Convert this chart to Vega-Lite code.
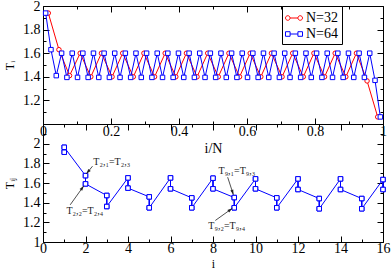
{
  "$schema": "https://vega.github.io/schema/vega-lite/v6.json",
  "padding": {"left": 3, "top": -2, "right": 5, "bottom": 0},
  "spacing": 0,
  "bounds": "flush",
  "config": {
    "font": "Liberation Serif",
    "view": {"stroke": "black", "strokeWidth": 1},
    "axis": {"labelFontSize": 14, "titleFontSize": 14, "titleFontWeight": "normal", "tickColor": "black", "labelColor": "black", "titleColor": "black", "grid": false, "domain": false, "labelFlush": false, "labelOverlap": false, "tickWidth": 1, "labelFont": "Liberation Serif", "titleFont": "Liberation Serif"}
  },
  "datasets": {
    "top": [
      {"N": "N=32", "x": 0.015625, "T": 1.94}, {"N": "N=32", "x": 0.046875, "T": 1.63}, {"N": "N=32", "x": 0.078125, "T": 1.41}, {"N": "N=32", "x": 0.109375, "T": 1.60},
      {"N": "N=32", "x": 0.140625, "T": 1.40}, {"N": "N=32", "x": 0.171875, "T": 1.60}, {"N": "N=32", "x": 0.203125, "T": 1.40}, {"N": "N=32", "x": 0.234375, "T": 1.60},
      {"N": "N=32", "x": 0.265625, "T": 1.40}, {"N": "N=32", "x": 0.296875, "T": 1.60}, {"N": "N=32", "x": 0.328125, "T": 1.40}, {"N": "N=32", "x": 0.359375, "T": 1.60},
      {"N": "N=32", "x": 0.390625, "T": 1.40}, {"N": "N=32", "x": 0.421875, "T": 1.60}, {"N": "N=32", "x": 0.453125, "T": 1.40}, {"N": "N=32", "x": 0.484375, "T": 1.60},
      {"N": "N=32", "x": 0.515625, "T": 1.40}, {"N": "N=32", "x": 0.546875, "T": 1.60}, {"N": "N=32", "x": 0.578125, "T": 1.40}, {"N": "N=32", "x": 0.609375, "T": 1.60},
      {"N": "N=32", "x": 0.640625, "T": 1.40}, {"N": "N=32", "x": 0.671875, "T": 1.60}, {"N": "N=32", "x": 0.703125, "T": 1.40}, {"N": "N=32", "x": 0.734375, "T": 1.60},
      {"N": "N=32", "x": 0.765625, "T": 1.40}, {"N": "N=32", "x": 0.796875, "T": 1.60}, {"N": "N=32", "x": 0.828125, "T": 1.40}, {"N": "N=32", "x": 0.859375, "T": 1.60},
      {"N": "N=32", "x": 0.890625, "T": 1.40}, {"N": "N=32", "x": 0.921875, "T": 1.60}, {"N": "N=32", "x": 0.953125, "T": 1.365}, {"N": "N=32", "x": 0.984375, "T": 1.06},
      {"N": "N=64", "x": 0.0078125, "T": 1.94}, {"N": "N=64", "x": 0.0234375, "T": 1.63}, {"N": "N=64", "x": 0.0390625, "T": 1.41}, {"N": "N=64", "x": 0.0546875, "T": 1.60},
      {"N": "N=64", "x": 0.0703125, "T": 1.395}, {"N": "N=64", "x": 0.0859375, "T": 1.60}, {"N": "N=64", "x": 0.1015625, "T": 1.395}, {"N": "N=64", "x": 0.1171875, "T": 1.60},
      {"N": "N=64", "x": 0.1328125, "T": 1.395}, {"N": "N=64", "x": 0.1484375, "T": 1.60}, {"N": "N=64", "x": 0.1640625, "T": 1.395}, {"N": "N=64", "x": 0.1796875, "T": 1.60},
      {"N": "N=64", "x": 0.1953125, "T": 1.395}, {"N": "N=64", "x": 0.2109375, "T": 1.60}, {"N": "N=64", "x": 0.2265625, "T": 1.395}, {"N": "N=64", "x": 0.2421875, "T": 1.60},
      {"N": "N=64", "x": 0.2578125, "T": 1.395}, {"N": "N=64", "x": 0.2734375, "T": 1.60}, {"N": "N=64", "x": 0.2890625, "T": 1.395}, {"N": "N=64", "x": 0.3046875, "T": 1.60},
      {"N": "N=64", "x": 0.3203125, "T": 1.395}, {"N": "N=64", "x": 0.3359375, "T": 1.60}, {"N": "N=64", "x": 0.3515625, "T": 1.395}, {"N": "N=64", "x": 0.3671875, "T": 1.60},
      {"N": "N=64", "x": 0.3828125, "T": 1.395}, {"N": "N=64", "x": 0.3984375, "T": 1.60}, {"N": "N=64", "x": 0.4140625, "T": 1.395}, {"N": "N=64", "x": 0.4296875, "T": 1.60},
      {"N": "N=64", "x": 0.4453125, "T": 1.395}, {"N": "N=64", "x": 0.4609375, "T": 1.60}, {"N": "N=64", "x": 0.4765625, "T": 1.395}, {"N": "N=64", "x": 0.4921875, "T": 1.60},
      {"N": "N=64", "x": 0.5078125, "T": 1.395}, {"N": "N=64", "x": 0.5234375, "T": 1.60}, {"N": "N=64", "x": 0.5390625, "T": 1.395}, {"N": "N=64", "x": 0.5546875, "T": 1.60},
      {"N": "N=64", "x": 0.5703125, "T": 1.395}, {"N": "N=64", "x": 0.5859375, "T": 1.60}, {"N": "N=64", "x": 0.6015625, "T": 1.395}, {"N": "N=64", "x": 0.6171875, "T": 1.60},
      {"N": "N=64", "x": 0.6328125, "T": 1.395}, {"N": "N=64", "x": 0.6484375, "T": 1.60}, {"N": "N=64", "x": 0.6640625, "T": 1.395}, {"N": "N=64", "x": 0.6796875, "T": 1.60},
      {"N": "N=64", "x": 0.6953125, "T": 1.395}, {"N": "N=64", "x": 0.7109375, "T": 1.60}, {"N": "N=64", "x": 0.7265625, "T": 1.395}, {"N": "N=64", "x": 0.7421875, "T": 1.60},
      {"N": "N=64", "x": 0.7578125, "T": 1.395}, {"N": "N=64", "x": 0.7734375, "T": 1.60}, {"N": "N=64", "x": 0.7890625, "T": 1.395}, {"N": "N=64", "x": 0.8046875, "T": 1.60},
      {"N": "N=64", "x": 0.8203125, "T": 1.395}, {"N": "N=64", "x": 0.8359375, "T": 1.60}, {"N": "N=64", "x": 0.8515625, "T": 1.395}, {"N": "N=64", "x": 0.8671875, "T": 1.60},
      {"N": "N=64", "x": 0.8828125, "T": 1.395}, {"N": "N=64", "x": 0.8984375, "T": 1.60}, {"N": "N=64", "x": 0.9140625, "T": 1.395}, {"N": "N=64", "x": 0.9296875, "T": 1.60},
      {"N": "N=64", "x": 0.9453125, "T": 1.395}, {"N": "N=64", "x": 0.9609375, "T": 1.60}, {"N": "N=64", "x": 0.9765625, "T": 1.37}, {"N": "N=64", "x": 0.9921875, "T": 1.06}
    ],
    "bottom": [
      {"i": 1, "j": 1, "T": 1.913, "k": 1}, {"i": 1, "j": 2, "T": 1.963, "k": 2}, {"i": 1, "j": 3, "T": 1.913, "k": 3}, {"i": 1, "j": 4, "T": 1.963, "k": 4},
      {"i": 2, "j": 1, "T": 1.675, "k": 5}, {"i": 2, "j": 2, "T": 1.591, "k": 6}, {"i": 2, "j": 3, "T": 1.675, "k": 7}, {"i": 2, "j": 4, "T": 1.591, "k": 8},
      {"i": 3, "j": 1, "T": 1.473, "k": 9}, {"i": 3, "j": 2, "T": 1.361, "k": 10}, {"i": 3, "j": 3, "T": 1.473, "k": 11}, {"i": 3, "j": 4, "T": 1.361, "k": 12},
      {"i": 4, "j": 1, "T": 1.652, "k": 13}, {"i": 4, "j": 2, "T": 1.548, "k": 14}, {"i": 4, "j": 3, "T": 1.652, "k": 15}, {"i": 4, "j": 4, "T": 1.548, "k": 16},
      {"i": 5, "j": 1, "T": 1.459, "k": 17}, {"i": 5, "j": 2, "T": 1.348, "k": 18}, {"i": 5, "j": 3, "T": 1.459, "k": 19}, {"i": 5, "j": 4, "T": 1.348, "k": 20},
      {"i": 6, "j": 1, "T": 1.652, "k": 21}, {"i": 6, "j": 2, "T": 1.541, "k": 22}, {"i": 6, "j": 3, "T": 1.652, "k": 23}, {"i": 6, "j": 4, "T": 1.541, "k": 24},
      {"i": 7, "j": 1, "T": 1.449, "k": 25}, {"i": 7, "j": 2, "T": 1.348, "k": 26}, {"i": 7, "j": 3, "T": 1.449, "k": 27}, {"i": 7, "j": 4, "T": 1.348, "k": 28},
      {"i": 8, "j": 1, "T": 1.649, "k": 29}, {"i": 8, "j": 2, "T": 1.541, "k": 30}, {"i": 8, "j": 3, "T": 1.649, "k": 31}, {"i": 8, "j": 4, "T": 1.541, "k": 32},
      {"i": 9, "j": 1, "T": 1.452, "k": 33}, {"i": 9, "j": 2, "T": 1.348, "k": 34}, {"i": 9, "j": 3, "T": 1.452, "k": 35}, {"i": 9, "j": 4, "T": 1.348, "k": 36},
      {"i": 10, "j": 1, "T": 1.642, "k": 37}, {"i": 10, "j": 2, "T": 1.541, "k": 38}, {"i": 10, "j": 3, "T": 1.642, "k": 39}, {"i": 10, "j": 4, "T": 1.541, "k": 40},
      {"i": 11, "j": 1, "T": 1.449, "k": 41}, {"i": 11, "j": 2, "T": 1.348, "k": 42}, {"i": 11, "j": 3, "T": 1.449, "k": 43}, {"i": 11, "j": 4, "T": 1.348, "k": 44},
      {"i": 12, "j": 1, "T": 1.642, "k": 45}, {"i": 12, "j": 2, "T": 1.534, "k": 46}, {"i": 12, "j": 3, "T": 1.642, "k": 47}, {"i": 12, "j": 4, "T": 1.534, "k": 48},
      {"i": 13, "j": 1, "T": 1.442, "k": 49}, {"i": 13, "j": 2, "T": 1.338, "k": 50}, {"i": 13, "j": 3, "T": 1.442, "k": 51}, {"i": 13, "j": 4, "T": 1.338, "k": 52},
      {"i": 14, "j": 1, "T": 1.642, "k": 53}, {"i": 14, "j": 2, "T": 1.534, "k": 54}, {"i": 14, "j": 3, "T": 1.642, "k": 55}, {"i": 14, "j": 4, "T": 1.534, "k": 56},
      {"i": 15, "j": 1, "T": 1.442, "k": 57}, {"i": 15, "j": 2, "T": 1.338, "k": 58}, {"i": 15, "j": 3, "T": 1.442, "k": 59}, {"i": 15, "j": 4, "T": 1.338, "k": 60},
      {"i": 16, "j": 1, "T": 1.635, "k": 61}, {"i": 16, "j": 2, "T": 1.534, "k": 62}, {"i": 16, "j": 3, "T": 1.635, "k": 63}, {"i": 16, "j": 4, "T": 1.534, "k": 64}
    ],
    "arrows": [
      {"id": 1, "x": 2.33, "y": 1.771, "x2": 2.04, "y2": 1.693},
      {"id": 2, "x": 1.28, "y": 1.378, "x2": 1.92, "y2": 1.571},
      {"id": 3, "x": 8.69, "y": 1.659, "x2": 8.96, "y2": 1.48},
      {"id": 4, "x": 8.11, "y": 1.219, "x2": 8.91, "y2": 1.343}
    ],
    "notes": [
      {"x": 2.37, "y": 1.81, "label": "T₂,₁=T₂,₃"},
      {"x": 1.10, "y": 1.32, "label": "T₂,₂=T₂,₄"},
      {"x": 8.26, "y": 1.72, "label": "T₉,₁=T₉,₃"},
      {"x": 7.78, "y": 1.16, "label": "T₉,₂=T₉,₄"}
    ]
  },
  "vconcat": [
    {
      "width": 340,
      "height": 118,
      "data": {"name": "top"},
      "layer": [
        {
          "mark": {"type": "line", "strokeWidth": 1},
          "encoding": {
            "x": {"field": "x", "type": "quantitative", "scale": {"domain": [0, 1], "nice": false, "zero": false},
              "axis": {"orient": "bottom", "values": [0, 0.1, 0.2, 0.3, 0.4, 0.5, 0.6, 0.7, 0.8, 0.9, 1], "format": "~g",
                "labelExpr": "round(datum.value*10)%2==0 ? datum.label : ''",
                "tickSize": {"condition": {"test": "round(datum.value*10)%2==0", "value": -6}, "value": -3},
                "labelPadding": 6, "title": "i/N", "titlePadding": 0}},
            "y": {"field": "T", "type": "quantitative", "scale": {"domain": [1, 2], "nice": false, "zero": false},
              "axis": {"orient": "left", "values": [1, 1.1, 1.2, 1.3, 1.4, 1.5, 1.6, 1.7, 1.8, 1.9, 2], "format": "~g",
                "labelExpr": "datum.value > 1.05 && round(datum.value*10)%2==0 ? datum.label : ''",
                "tickSize": {"condition": {"test": "round(datum.value*10)%2==0", "value": -6}, "value": -3},
                "labelPadding": 9, "title": "Tᵢ", "titleFontSize": 12, "titlePadding": 6}},
            "color": {"field": "N", "type": "nominal", "scale": {"domain": ["N=32", "N=64"], "range": ["#ff0000", "#0000ff"]},
              "legend": {"orient": "none", "legendX": 239, "legendY": 0, "title": null, "strokeColor": "black", "fillColor": "white",
                "padding": 3, "labelFontSize": 14, "labelFont": "Liberation Serif", "labelColor": "black", "symbolSize": 289,
                "labelOffset": 3, "rowPadding": -5, "symbolStrokeWidth": 1, "cornerRadius": 0,
                "encode": {"symbols": {"update": {
                  "shape": {"signal": "datum.value === 'N=32' ? 'M-0.46,0L0.46,0M-1,0A0.27,0.27 0 1 1 -0.46,0A0.27,0.27 0 1 1 -1,0M0.46,0A0.27,0.27 0 1 1 1,0A0.27,0.27 0 1 1 0.46,0' : 'M-0.46,0L0.46,0M-1,-0.27L-0.46,-0.27L-0.46,0.27L-1,0.27ZM0.46,-0.27L1,-0.27L1,0.27L0.46,0.27Z'"},
                  "fill": {"value": "transparent"}}}}}}
          }
        },
        {
          "mark": {"type": "point", "filled": false, "fill": "white", "size": 20, "strokeWidth": 1, "opacity": 1},
          "encoding": {
            "x": {"field": "x", "type": "quantitative",
              "axis": {"orient": "top", "values": [0, 0.1, 0.2, 0.3, 0.4, 0.5, 0.6, 0.7, 0.8, 0.9, 1], "labels": false, "title": null,
                "tickSize": {"condition": {"test": "round(datum.value*10)%2==0", "value": -6}, "value": -3}}},
            "y": {"field": "T", "type": "quantitative",
              "axis": {"orient": "right", "values": [1, 1.1, 1.2, 1.3, 1.4, 1.5, 1.6, 1.7, 1.8, 1.9, 2], "labels": false, "title": null,
                "tickSize": {"condition": {"test": "round(datum.value*10)%2==0", "value": -6}, "value": -3}}},
            "color": {"field": "N", "type": "nominal"},
            "shape": {"condition": {"test": "datum.N === 'N=32'", "value": "circle"}, "value": "square"}
          }
        }
      ],
      "resolve": {"axis": {"x": "independent", "y": "independent"}}
    },
    {
      "width": 340,
      "height": 118,
      "layer": [
        {
          "data": {"name": "bottom"},
          "mark": {"type": "line", "strokeWidth": 1, "color": "#0000ff"},
          "encoding": {
            "x": {"field": "i", "type": "quantitative", "scale": {"domain": [0, 16], "nice": false, "zero": false},
              "axis": {"orient": "bottom", "values": [0, 1, 2, 3, 4, 5, 6, 7, 8, 9, 10, 11, 12, 13, 14, 15, 16], "format": "~g",
                "labelExpr": "datum.value%2==0 ? datum.label : ''",
                "tickSize": {"condition": {"test": "datum.value%2==0", "value": -6}, "value": -3},
                "labelPadding": 5, "title": "i", "titleFontSize": 12, "titlePadding": 0}},
            "y": {"field": "T", "type": "quantitative", "scale": {"domain": [1, 2.2], "nice": false, "zero": false},
              "axis": {"orient": "left", "values": [1, 1.1, 1.2, 1.3, 1.4, 1.5, 1.6, 1.7, 1.8, 1.9, 2, 2.1, 2.2], "format": "~g",
                "labelExpr": "datum.value < 2.15 && round(datum.value*10)%2==0 ? datum.label : ''",
                "tickSize": {"condition": {"test": "round(datum.value*10)%2==0", "value": -6}, "value": -3},
                "labelPadding": 9, "title": "Tᵢⱼ", "titleFontSize": 12, "titlePadding": 6}},
            "order": {"field": "k", "type": "quantitative"}
          }
        },
        {
          "data": {"name": "bottom"},
          "mark": {"type": "point", "shape": "square", "filled": false, "fill": "white", "size": 20, "strokeWidth": 1, "opacity": 1, "color": "#0000ff"},
          "encoding": {
            "x": {"field": "i", "type": "quantitative",
              "axis": {"orient": "top", "values": [0, 1, 2, 3, 4, 5, 6, 7, 8, 9, 10, 11, 12, 13, 14, 15, 16], "labels": false, "title": null,
                "tickSize": {"condition": {"test": "datum.value%2==0", "value": -6}, "value": -3}}},
            "y": {"field": "T", "type": "quantitative",
              "axis": {"orient": "right", "values": [1, 1.1, 1.2, 1.3, 1.4, 1.5, 1.6, 1.7, 1.8, 1.9, 2, 2.1, 2.2], "labels": false, "title": null,
                "tickSize": {"condition": {"test": "round(datum.value*10)%2==0", "value": -6}, "value": -3}}}
          }
        },
        {
          "data": {"name": "arrows"},
          "mark": {"type": "rule", "color": "#222222", "strokeWidth": 0.8},
          "encoding": {
            "x": {"field": "x", "type": "quantitative", "axis": null},
            "y": {"field": "y", "type": "quantitative", "axis": null},
            "x2": {"field": "x2"},
            "y2": {"field": "y2"}
          }
        },
        {
          "data": {"name": "arrows"},
          "mark": {"type": "point", "shape": "M0,0L-0.4,1.3L0.4,1.3Z", "filled": true, "color": "#222222", "size": 60, "opacity": 1},
          "encoding": {
            "x": {"field": "x2", "type": "quantitative", "axis": null},
            "y": {"field": "y2", "type": "quantitative", "axis": null},
            "angle": {"condition": [{"test": "datum.id == 1", "value": 219}, {"test": "datum.id == 2", "value": 35}, {"test": "datum.id == 3", "value": 162}], "value": 54}
          }
        },
        {
          "data": {"name": "notes"},
          "mark": {"type": "text", "align": "left", "baseline": "middle", "font": "Liberation Serif", "fontSize": 10, "color": "#222222"},
          "encoding": {
            "x": {"field": "x", "type": "quantitative", "axis": null},
            "y": {"field": "y", "type": "quantitative", "axis": null},
            "text": {"field": "label"}
          }
        }
      ],
      "resolve": {"axis": {"x": "independent", "y": "independent"}}
    }
  ]
}
